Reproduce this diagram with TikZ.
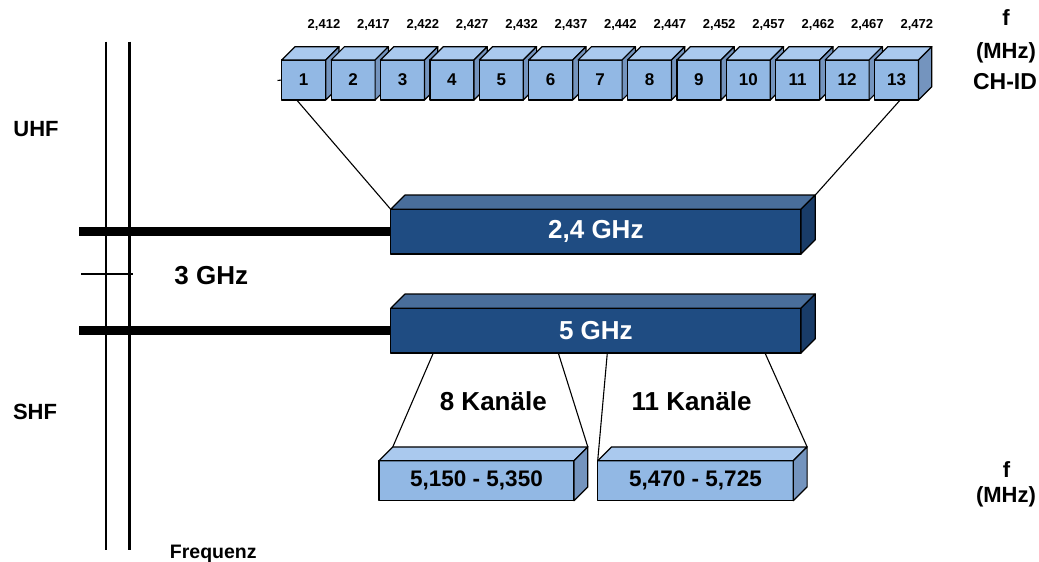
\documentclass[tikz,border=0pt]{standalone}
\usepackage{fontspec}
\setmainfont{Liberation Sans}
\definecolor{lightfront}{RGB}{146,184,228}
\definecolor{lighttop}{RGB}{170,201,238}
\definecolor{lightside}{RGB}{116,148,190}
\definecolor{darkfront}{RGB}{31,76,130}
\definecolor{darktop}{RGB}{73,110,155}
\definecolor{darkside}{RGB}{25,60,104}
% top and right faces of a box node: #1 node, #2 depth, #3 top colour, #4 side colour
\newcommand\boxfaces[4]{%
  \filldraw[face,fill=#3] (#1.north west) -- ([shift={(#2,-#2)}]#1.north west)
    -- ([shift={(#2,-#2)}]#1.north east) -- (#1.north east) -- cycle;
  \filldraw[face,fill=#4] (#1.north east) -- ([shift={(#2,-#2)}]#1.north east)
    -- ([shift={(#2,-#2)}]#1.south east) -- (#1.south east) -- cycle;
}
\begin{document}
\begin{tikzpicture}[x=1pt,y=-1pt,
  face/.style={draw=black,line width=1.2pt,line join=round},
  chcube/.style={face,fill=lightfront,anchor=north west,minimum width=44pt,
    minimum height=40pt,inner sep=0pt,outer sep=0pt,
    font=\bfseries\fontsize{17pt}{17pt}\selectfont},
  band/.style={face,fill=darkfront,text=white,anchor=north west,
    minimum width=410.3pt,minimum height=44.7pt,inner sep=0pt,outer sep=0pt,
    font=\bfseries\fontsize{26pt}{26pt}\selectfont},
  subband/.style={face,fill=lightfront,anchor=north west,minimum height=40pt,
    inner sep=0pt,outer sep=0pt,font=\bfseries\fontsize{22.5pt}{22.5pt}\selectfont},
  txt/.style={inner sep=0pt,anchor=base,font=\bfseries\fontsize{#1pt}{#1pt}\selectfont},
  axis/.style={line width=2.4pt},
  bar/.style={line width=9pt},
  link/.style={line width=1.1pt},
]
\useasboundingbox (0,0) rectangle (1039,562);

% frequency axis
\coordinate (v1t) at (105.7,41.7);  \coordinate (v1b) at (105.7,550);
\coordinate (v2t) at (129.3,41.7);  \coordinate (v2b) at (129.3,550);
\draw[axis] (v1t) -- (v1b);
\draw[axis] (v2t) -- (v2b);
\coordinate (tk1) at (81,274); \coordinate (tk2) at (132.7,274);
\draw[line width=1.5pt] (tk1) -- (tk2);

\node[txt=22] (uhf) at (36,136) {UHF};
\node[txt=22] (shf) at (35,419.5) {SHF};
\node[txt=26] (ghz3) at (211.3,284) {3 GHz};
\node[txt=19.5] (freq) at (213.3,558) {Frequenz};

% channel cubes of the 2.4 GHz band
\foreach \i in {1,...,13}{
  \node[chcube] (ch\i) at ({281.7+(\i-1)*49.4},60) {\i};
  \boxfaces{ch\i}{13.3}{lighttop}{lightside}
}
\foreach \f [count=\i] in {412,417,...,472}{
  \node[txt=13] (fq\i) at ({324+(\i-1)*49.4},28.3) {2,\f};
}
\coordinate (stub) at (277.5,80.5);
\draw[link] (stub) -- (ch1.west);

\node[txt=22] (fa) at (1006,25) {f};
\node[txt=22] (ma) at (1006,58) {(MHz)};
\node[txt=23] (chid) at (1005,89) {CH-ID};

% bands
\node[band] (b24) at (390.7,209.3) {2,4 GHz};
\boxfaces{b24}{14.3}{darktop}{darkside}
\node[band] (b5) at (390.7,308.3) {5 GHz};
\boxfaces{b5}{14.3}{darktop}{darkside}

\coordinate (h24) at (79,231.65);
\coordinate (h5) at (79,330.65);
\draw[bar] (h24) -- (b24.west);
\draw[bar] (h5) -- (b5.west);

\draw[link] ([xshift=15pt]ch1.south west) -- (b24.north west);
\draw[link] ([xshift=25.7pt]ch13.south west) -- ([shift={(14.3,-14.3)}]b24.north east);

% sub-bands of the 5 GHz band
\node[subband,minimum width=195pt] (s1) at (379,460.7) {5,150 - 5,350};
\boxfaces{s1}{13.8}{lighttop}{lightside}
\node[subband,minimum width=195.6pt] (s2) at (597.7,460.7) {5,470 - 5,725};
\boxfaces{s2}{13.8}{lighttop}{lightside}

\draw[link] ([xshift=42.6pt]b5.south west) -- ([shift={(13.8,-13.8)}]s1.north west);
\draw[link] ([xshift=167.6pt]b5.south west) -- ([shift={(13.8,-13.8)}]s1.north east);
\draw[link] ([xshift=216.6pt]b5.south west) -- (s2.north west);
\draw[link] ([xshift=374.3pt]b5.south west) -- ([shift={(13.8,-13.8)}]s2.north east);

\node[txt=26] (k8) at (493.3,410) {8 Kanäle};
\node[txt=26] (k11) at (691.7,410) {11 Kanäle};

\node[txt=22] (fb) at (1006.5,477.3) {f};
\node[txt=22] (mb) at (1006,502.5) {(MHz)};
\end{tikzpicture}
\end{document}
